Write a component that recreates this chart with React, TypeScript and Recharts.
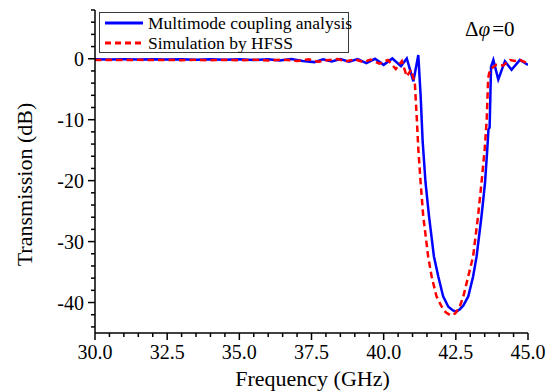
import React from 'react';
import { LineChart, Line, XAxis, YAxis, Legend } from 'recharts';

const FONT = '"Liberation Serif", serif';

// Frequency (GHz) samples and transmission (dB) for the multimode coupling analysis
const freqMultimode = [
  30.0, 30.5, 31.0, 31.5, 32.0, 32.5, 33.0, 33.5, 34.0, 34.5, 35.0, 35.5, 36.0, 36.4, 36.8,
  37.2, 37.6, 37.9, 38.2, 38.5, 38.8, 39.1, 39.4, 39.7, 40.0, 40.3, 40.6, 40.8, 41.03, 41.2,
  41.28, 41.35, 41.45, 41.57, 41.74, 41.89, 42.06, 42.24, 42.4, 42.52, 42.64, 42.76, 42.93,
  43.1, 43.22, 43.39, 43.51, 43.59, 43.63, 43.67, 43.72, 43.8, 43.97, 44.2, 44.43, 44.72, 45.0,
];
const multimodeDb = [
  -0.1, -0.12, -0.1, -0.13, -0.1, -0.14, -0.1, -0.15, -0.1, -0.18, -0.1, -0.2, -0.1, -0.3, -0.05,
  -0.35, -0.55, -0.1, -0.45, -0.05, -0.5, -0.05, -0.7, 0.0, -1.0, 0.05, -1.2, 0.05, -3.7, 0.6,
  -6.0, -13.5, -20.3, -25.8, -32.4, -35.7, -39.0, -40.7, -41.3, -41.5, -41.1, -40.5, -39.0,
  -35.7, -32.4, -25.8, -20.4, -14.8, -11.6, -11.3, -1.3, -0.2, -3.4, -0.4, -1.8, -0.2, -1.0,
];

// Frequency (GHz) samples and transmission (dB) for the HFSS simulation
const freqHfss = [
  30.0, 30.5, 31.0, 31.5, 32.0, 32.5, 33.0, 33.5, 34.0, 34.5, 35.0, 35.5, 36.0, 36.5, 37.0,
  37.4, 37.75, 38.1, 38.4, 38.7, 39.0, 39.3, 39.55, 39.85, 40.15, 40.42, 40.63, 40.8, 40.95,
  41.08, 41.15, 41.2, 41.28, 41.37, 41.54, 41.66, 41.83, 42.0, 42.15, 42.32, 42.48, 42.64,
  42.76, 42.93, 43.1, 43.27, 43.39, 43.5, 43.57, 43.62, 43.68, 43.9, 44.14, 44.38, 44.55,
  44.72, 44.95, 45.0,
];
const hfssDb = [
  -0.2, -0.18, -0.22, -0.18, -0.22, -0.18, -0.24, -0.18, -0.25, -0.18, -0.26, -0.15, -0.3, -0.15, -0.35,
  -0.1, -0.5, -0.2, -0.05, -0.4, -0.1, -0.55, -0.15, -0.8, -0.2, -1.7, -0.4, -2.9, -1.8,
  -4.0, -10.0, -14.8, -20.3, -25.8, -32.4, -35.7, -39.0, -40.6, -41.6, -42.1, -41.8, -40.6,
  -39.0, -35.7, -32.4, -25.8, -20.3, -14.8, -10.0, -3.2, -1.8, -1.0, -1.1, -0.2, -0.35,
  -0.2, -0.7, -0.8,
];

const seriesNames = ['Multimode coupling analysis', 'Simulation by HFSS'];
const seriesColors = ['#0000ff', '#ff0000'];
const seriesDash = ['', '6.5 4'];

const xMajorTicks = [30, 32.5, 35, 37.5, 40, 42.5, 45];
const yMajorTicks = [0, -10, -20, -30, -40];
const xAllTicks = Array.from({ length: 31 }, (_, i) => 30 + i * 0.5);
const yAllTicks = Array.from({ length: 27 }, (_, i) => -44 + i * 2);

const multimodeData = freqMultimode.map((f, i) => ({ f, v: multimodeDb[i] }));
const hfssData = freqHfss.map((f, i) => ({ f, v: hfssDb[i] }));

const XTick = (props: any) => {
  const { x, y, payload } = props;
  const v = payload.value as number;
  const major = xMajorTicks.some((t) => Math.abs(t - v) < 1e-6);
  return (
    <g>
      <line x1={x} y1={y} x2={x} y2={y + (major ? 7 : 4)} stroke="#000" strokeWidth={1.5} />
      {major && (
        <text x={x} y={y + 26} textAnchor="middle" style={{ fontFamily: FONT }} fontSize={20} fill="#000">
          {v.toFixed(1)}
        </text>
      )}
    </g>
  );
};

const YTick = (props: any) => {
  const { x, y, payload } = props;
  const v = payload.value as number;
  const major = yMajorTicks.some((t) => Math.abs(t - v) < 1e-6);
  return (
    <g>
      <line x1={x - (major ? 7 : 4)} y1={y} x2={x} y2={y} stroke="#000" strokeWidth={1.5} />
      {major && (
        <text x={x - 11} y={y + 7} textAnchor="end" style={{ fontFamily: FONT }} fontSize={20} fill="#000">
          {String(v)}
        </text>
      )}
    </g>
  );
};

const XLabel = (props: any) => {
  const vb = props.viewBox || {};
  return (
    <text x={vb.x + vb.width / 2 + 1} y={vb.y + 53} textAnchor="middle" style={{ fontFamily: FONT }} fontSize={22} fill="#000">
      Frequency (GHz)
    </text>
  );
};

const YLabel = (props: any) => {
  const vb = props.viewBox || {};
  const cx = vb.x + 24;
  const cy = vb.y + vb.height / 2 + 13;
  return (
    <text
      x={cx}
      y={cy}
      transform={`rotate(-90, ${cx}, ${cy})`}
      textAnchor="middle"
      dominantBaseline="central"
      style={{ fontFamily: FONT }}
      fontSize={22}
      fill="#000"
    >
      Transmission (dB)
    </text>
  );
};

const renderLegend = () => (
  <div
    style={{
      width: 250,
      height: 41,
      border: '1.5px solid #3a3a3a',
      background: '#fff',
      boxSizing: 'border-box',
      position: 'relative',
      fontFamily: FONT,
      fontSize: 17.5,
      color: '#000',
    }}
  >
    {seriesNames.map((name, i) => (
      <div
        key={name}
        style={{
          position: 'absolute',
          left: 5,
          top: 0 + i * 20,
          height: 20,
          display: 'flex',
          alignItems: 'center',
          whiteSpace: 'nowrap',
        }}
      >
        <svg width={38} height={6} style={{ display: 'block' }}>
          <line x1={0} y1={3} x2={38} y2={3} stroke={seriesColors[i]} strokeWidth={3} strokeDasharray={i === 1 ? '6 4' : undefined} />
        </svg>
        <span style={{ marginLeft: 5, lineHeight: '20px' }}>{name}</span>
      </div>
    ))}
  </div>
);

export default function App() {
  return (
    <div style={{ position: 'absolute', left: 0, top: 0, width: 551, height: 392, background: '#fff', fontFamily: FONT }}>
      <LineChart width={551} height={392} margin={{ top: 10, right: 23, left: 0, bottom: 0 }}>
        <XAxis
          dataKey="f"
          type="number"
          domain={[30, 45]}
          ticks={xAllTicks}
          interval={0}
          allowDataOverflow
          height={59}
          tickSize={0}
          tickMargin={0}
          tickLine={false}
          tick={<XTick />}
          axisLine={{ stroke: '#000', strokeWidth: 1.5 }}
          label={<XLabel />}
        />
        <YAxis
          type="number"
          domain={[-45, 8]}
          ticks={yAllTicks}
          interval={0}
          allowDataOverflow
          width={95}
          tickSize={0}
          tickMargin={0}
          tickLine={false}
          tick={<YTick />}
          axisLine={{ stroke: '#000', strokeWidth: 1.5 }}
          label={<YLabel />}
        />
        <Legend
          layout="vertical"
          align="center"
          verticalAlign="middle"
          content={renderLegend}
          wrapperStyle={{ position: 'absolute', left: 99, top: 12, width: 250, height: 41 }}
        />
        <Line
          data={multimodeData}
          dataKey="v"
          name={seriesNames[0]}
          type="linear"
          stroke={seriesColors[0]}
          strokeWidth={2.5}
          dot={false}
          isAnimationActive={false}
        />
        <Line
          data={hfssData}
          dataKey="v"
          name={seriesNames[1]}
          type="linear"
          stroke={seriesColors[1]}
          strokeWidth={2.5}
          strokeDasharray={seriesDash[1]}
          dot={false}
          isAnimationActive={false}
        />
      </LineChart>
      <div
        style={{
          position: 'absolute',
          left: 465,
          top: 17,
          fontFamily: FONT,
          fontSize: 21,
          lineHeight: '24px',
          color: '#000',
          whiteSpace: 'nowrap',
        }}
      >
        Δ<i>φ</i>
        <span style={{ marginLeft: 2 }}>=0</span>
      </div>
    </div>
  );
}
